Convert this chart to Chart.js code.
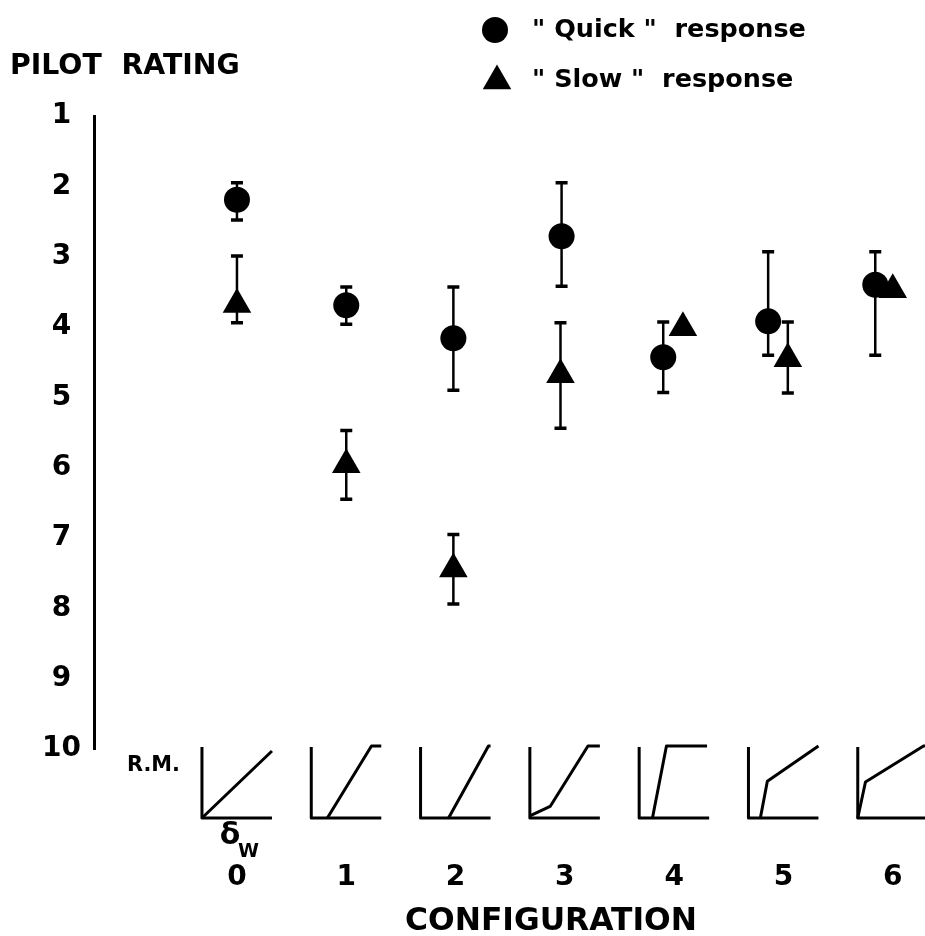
<!DOCTYPE html>
<html>
<head>
<meta charset="utf-8">
<title>Pilot rating vs configuration</title>
<script src="https://cdn.jsdelivr.net/npm/chart.js@4.4.1/dist/chart.umd.min.js"></script>
<style>
    html, body { margin: 0; padding: 0; background: #fff; }
    #wrap { width: 925px; height: 936px; }
</style>
</head>
<body>
<div id="wrap"><canvas id="chart" width="925" height="936"></canvas></div>
<script>
// ==================== DATA ====================
var configs = [0, 1, 2, 3, 4, 5, 6];
var ratingTicks = [1, 2, 3, 4, 5, 6, 7, 8, 9, 10];

// "Quick" response (circles) - x is nudged left where the two symbols would overlap
var quickX = [0, 1, 1.98, 2.97, 3.9, 4.86, 5.84];
var quickRating = [2.19, 3.69, 4.16, 2.71, 4.43, 3.92, 3.40];
var quickBest = [1.95, 3.43, 3.43, 1.95, 3.93, 2.93, 2.93];
var quickWorst = [2.48, 3.96, 4.90, 3.42, 4.93, 4.40, 4.40];

// "Slow" response (triangles)
var slowX = [0, 1, 1.98, 2.96, 4.08, 5.04, 6.0];
var slowRating = [3.68, 5.96, 7.44, 4.68, 4.01, 4.45, 3.47];
var slowBest = [2.99, 5.47, 6.95, 3.94, null, 3.93, null];
var slowWorst = [3.94, 6.45, 7.94, 5.44, null, 4.94, null];

// R.M. vs wheel deflection sketches, breakpoints as [u, v] in 0..1
var rmShapes = [
    [[0, 0], [1, 0.93]],
    [[0.23, 0], [0.86, 1], [1, 1]],
    [[0.4, 0], [0.97, 1], [1, 1]],
    [[0, 0.03], [0.29, 0.16], [0.83, 1], [1, 1]],
    [[0.19, 0], [0.39, 1], [0.97, 1]],
    [[0.17, 0], [0.27, 0.51], [1, 1]],
    [[0, 0], [0.11, 0.5], [0.94, 1], [1.05, 1]]
];

function points(xs, ys, best, worst) {
    return xs.map(function(x, i) {
        return { x: x, y: ys[i], lo: best[i], hi: worst[i] };
    });
}

var FONT = 'DejaVu Sans';

// error bars drawn under the symbols
var errorBars = {
    id: 'errorBars',
    beforeDatasetsDraw: function(chart) {
        var ctx = chart.ctx, xs = chart.scales.x, ys = chart.scales.y;
        ctx.save();
        ctx.strokeStyle = '#000';
        chart.data.datasets.forEach(function(ds) {
            ds.data.forEach(function(p) {
                if (p.lo == null) return;
                var x = xs.getPixelForValue(p.x);
                var y1 = ys.getPixelForValue(p.lo), y2 = ys.getPixelForValue(p.hi);
                ctx.lineWidth = 2.5;
                ctx.beginPath(); ctx.moveTo(x, y1); ctx.lineTo(x, y2); ctx.stroke();
                ctx.lineWidth = 3.5;
                ctx.beginPath();
                ctx.moveTo(x - 6, y1); ctx.lineTo(x + 6, y1);
                ctx.moveTo(x - 6, y2); ctx.lineTo(x + 6, y2);
                ctx.stroke();
            });
        });
        ctx.restore();
    }
};

function fitFont(ctx, text, width, weight) {
    ctx.font = weight + ' 30px "' + FONT + '"';
    var w = ctx.measureText(text).width;
    return 30 * width / w;
}

function drawTriangle(ctx, x, y, r) {
    ctx.beginPath();
    for (var k = 0; k < 3; k++) {
        var a = k * 2 * Math.PI / 3;
        var px = x + Math.sin(a) * r, py = y - Math.cos(a) * r;
        if (k === 0) ctx.moveTo(px, py); else ctx.lineTo(px, py);
    }
    ctx.closePath();
    ctx.fill();
}

// titles, legend and the R.M. sketches under the axis
var annotations = {
    id: 'annotations',
    afterDraw: function(chart) {
        var ctx = chart.ctx, xs = chart.scales.x;
        ctx.save();
        ctx.fillStyle = '#000';
        ctx.strokeStyle = '#000';
        ctx.textBaseline = 'middle';
        ctx.textAlign = 'left';

        // y title
        var t = 'PILOT  RATING';
        var s = fitFont(ctx, t, 230, 'bold');
        ctx.font = 'bold ' + s + 'px "' + FONT + '"';
        ctx.fillText(t, 10, 67);

        // legend
        ctx.beginPath(); ctx.arc(495, 30, 13, 0, Math.PI * 2); ctx.fill();
        drawTriangle(ctx, 497, 81, 16.5);
        var l1 = '" Quick "  response', l2 = '" Slow "  response';
        s = fitFont(ctx, l1, 274, 'bold');
        ctx.font = 'bold ' + s + 'px "' + FONT + '"';
        ctx.fillText(l1, 532, 30);
        ctx.fillText(l2, 532, 80);

        // x title
        t = 'CONFIGURATION';
        s = fitFont(ctx, t, 292, 'bold');
        ctx.font = 'bold ' + s + 'px "' + FONT + '"';
        ctx.textAlign = 'center';
        ctx.fillText(t, 551, 922);

        // R.M. label
        ctx.textAlign = 'left';
        t = 'R.M.';
        s = fitFont(ctx, t, 53, 'bold');
        ctx.font = 'bold ' + s + 'px "' + FONT + '"';
        ctx.fillText(t, 127, 766);

        // sketches
        var top = 747, bottom = 818, bw = 70, bh = 72;
        ctx.lineWidth = 3;
        ctx.lineJoin = 'round';
        configs.forEach(function(c, i) {
            var left = xs.getPixelForValue(c) - bw / 2;
            ctx.beginPath();
            ctx.moveTo(left, top); ctx.lineTo(left, bottom); ctx.lineTo(left + bw, bottom);
            ctx.stroke();
            ctx.beginPath();
            rmShapes[i].forEach(function(p, k) {
                var px = left + p[0] * bw, py = bottom - p[1] * bh;
                if (k === 0) ctx.moveTo(px, py); else ctx.lineTo(px, py);
            });
            ctx.stroke();
        });

        // delta_w under the first sketch
        ctx.font = 'bold 30px "' + FONT + '"';
        ctx.textAlign = 'center';
        ctx.fillText('\u03B4', 230, 836);
        ctx.font = 'bold 19px "' + FONT + '"';
        ctx.textAlign = 'left';
        ctx.textBaseline = 'alphabetic';
        ctx.fillText('W', 238, 857);
        ctx.restore();
    }
};

var chart = new Chart(document.getElementById('chart'), {
    type: 'scatter',
    data: {
        datasets: [{
            label: '"Quick" response',
            data: points(quickX, quickRating, quickBest, quickWorst),
            pointStyle: 'circle',
            pointRadius: 13,
            backgroundColor: '#000',
            borderColor: '#000',
            borderWidth: 0
        }, {
            label: '"Slow" response',
            data: points(slowX, slowRating, slowBest, slowWorst),
            pointStyle: 'triangle',
            pointRadius: 16.5,
            backgroundColor: '#000',
            borderColor: '#000',
            borderWidth: 0
        }]
    },
    options: {
        responsive: false,
        animation: false,
        layout: { autoPadding: false, padding: { top: 116, right: 0, left: 0, bottom: 0 } },
        plugins: { legend: { display: false }, tooltip: { enabled: false } },
        scales: {
            x: {
                type: 'linear',
                min: -1.308,
                max: 6.295,
                grid: { display: false, drawTicks: false },
                border: { display: false },
                afterBuildTicks: function(s) { s.ticks = configs.map(function(v) { return { value: v }; }); },
                afterFit: function(s) {
                    s.height = 187;
                    s.paddingLeft = 0;
                    s.paddingRight = 0;
                },
                ticks: {
                    // tall line box pushes the digits below the R.M. sketches
                    padding: 0,
                    color: '#000',
                    font: { family: FONT, size: 28, weight: 'bold', lineHeight: '258px' }
                }
            },
            y: {
                reverse: true,
                min: 1,
                max: 10,
                grid: { display: false, drawTicks: false },
                border: { display: true, width: 3, color: '#000' },
                afterBuildTicks: function(s) { s.ticks = ratingTicks.map(function(v) { return { value: v }; }); },
                afterFit: function(s) {
                    s.width = 94;
                    s.paddingTop = 0;
                    s.paddingBottom = 0;
                },
                ticks: {
                    crossAlign: 'center',
                    padding: 13,
                    color: '#000',
                    font: { family: FONT, size: 28, weight: 'bold' }
                }
            }
        }
    },
    plugins: [errorBars, annotations]
});
</script>
</body>
</html>
